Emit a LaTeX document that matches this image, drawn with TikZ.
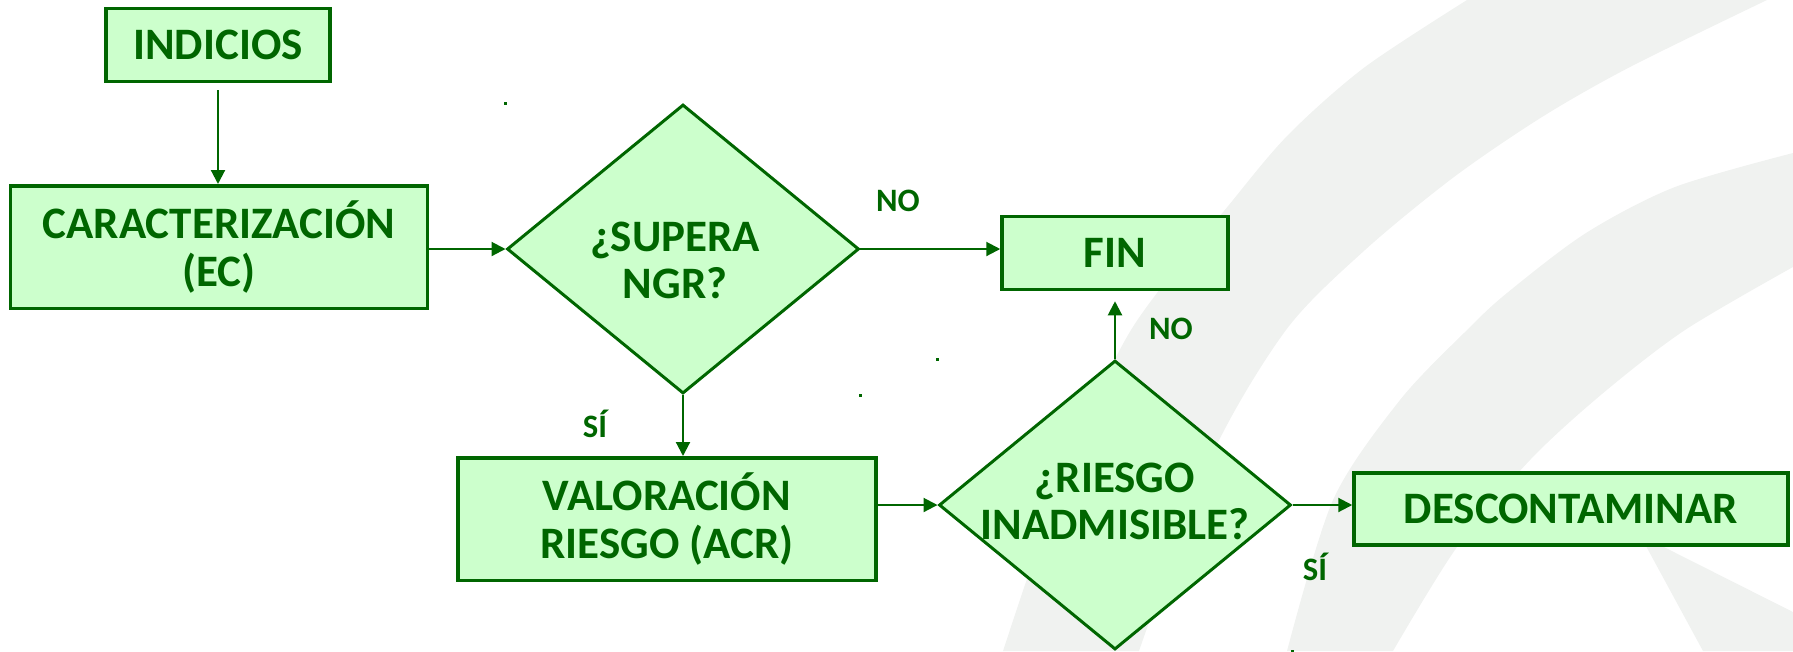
\documentclass[tikz,border=0pt]{standalone}
\usepackage{fontspec}
\setmainfont{Carlito}
\usepackage{tikz}
\usetikzlibrary{arrows.meta,shapes.geometric}
\definecolor{verde}{HTML}{006600}
\definecolor{verdeclaro}{HTML}{CCFFCC}
\definecolor{fondo}{HTML}{F0F2F0}

\begin{document}
\begin{tikzpicture}[x=0.1mm, y=-0.1mm, >={Triangle[length=1.4mm, width=1.4mm]},
    caja/.style={draw=verde, fill=verdeclaro, line width=1pt, inner sep=0pt, text=verde,
      align=center, font=\fontsize{12.8}{13.4}\selectfont\bfseries},
    rombo/.style={caja, diamond, line width=0.85pt, minimum width=35.2mm, minimum height=28.9mm},
    textorombo/.style={text=verde, inner sep=0pt, align=center, font=\fontsize{12.8}{13.4}\selectfont\bfseries},
    etiqueta/.style={text=verde, font=\fontsize{9.3}{10}\selectfont\bfseries},
    flecha/.style={->, draw=verde, line width=0.6pt}]
    \useasboundingbox (0,0) rectangle (1793,651);
    \fill[fondo] plot[smooth] coordinates {(1467,0) (1365,67) (1290,133) (1233,200) (1131,330) (1062,480) (1003,651)}
      -- plot[smooth] coordinates {(1139,651) (1211,457) (1286,330) (1365,250) (1454,177) (1542,117) (1630,67) (1767,0)} -- cycle;
    \fill[fondo] plot[smooth] coordinates {(1793,153) (1675,187) (1586,233) (1507,293) (1467,330) (1400,400) (1333,500) (1287,651)}
      -- plot[smooth] coordinates {(1393,651) (1457,547) (1530,460) (1602,394) (1685,330) (1793,267)} -- cycle;
    \fill[fondo] (1640,535) -- (1793,612) -- (1793,651) -- (1703,651) -- cycle;

    \node[caja, minimum width=22.4mm, minimum height=7.3mm] (indicios) at (218,45) {INDICIOS};
    \node[caja, minimum width=41.7mm, minimum height=12.25mm] (caract) at (219,247) {CARACTERIZACIÓN\\(EC)};
    \node[rombo] (supera) at (683,249) {};
    \node[textorombo] (supera-texto) at (675,260) {¿SUPERA\\NGR?};
    \node[caja, minimum width=22.6mm, minimum height=7.3mm] (fin) at (1115,253) {FIN};
    \node[caja, minimum width=41.85mm, minimum height=12.25mm] (valoracion) at (667,519) {VALORACIÓN\\RIESGO (ACR)};
    \node[rombo] (riesgo) at (1115,505) {};
    \node[textorombo] (riesgo-texto) at (1115,501) {¿RIESGO\\INADMISIBLE?};
    \node[caja, minimum width=43.4mm, minimum height=7.2mm] (descont) at (1571,509) {DESCONTAMINAR};

    \draw[flecha, shorten <=0.7mm] (indicios.south) -- (indicios.south |- caract.north);
    \draw[flecha] (caract.east |- supera.west) -- (supera.west);
    \draw[flecha] (supera.east) -- (fin.west |- supera.east);
    \draw[flecha] (supera.south) -- (supera.south |- valoracion.north);
    \draw[flecha] (valoracion.east |- riesgo.west) -- (riesgo.west);
    \draw[flecha, shorten >=1mm] (riesgo.north) -- (riesgo.north |- fin.south);
    \draw[flecha] (riesgo.east) -- (descont.west |- riesgo.east);

    \node[etiqueta] (no1) at (898,201) {NO};
    \node[etiqueta] (no2) at (1171,329) {NO};
    \node[etiqueta] (si1) at (595,424) {SÍ};
    \node[etiqueta] (si2) at (1315,567) {SÍ};

    \fill[verde] (supera.west |- supera.north) +(-1.5,-1.5) rectangle +(1.5,1.5);
    \fill[verde] (supera.east |- supera.south) +(-1.5,-1.5) rectangle +(1.5,1.5);
    \fill[verde] (riesgo.west |- riesgo.north) +(-1.5,-1.5) rectangle +(1.5,1.5);
    \fill[verde] (riesgo.east |- riesgo.south) +(-1.5,-1.5) rectangle +(1.5,1.5);
\end{tikzpicture}
\end{document}
